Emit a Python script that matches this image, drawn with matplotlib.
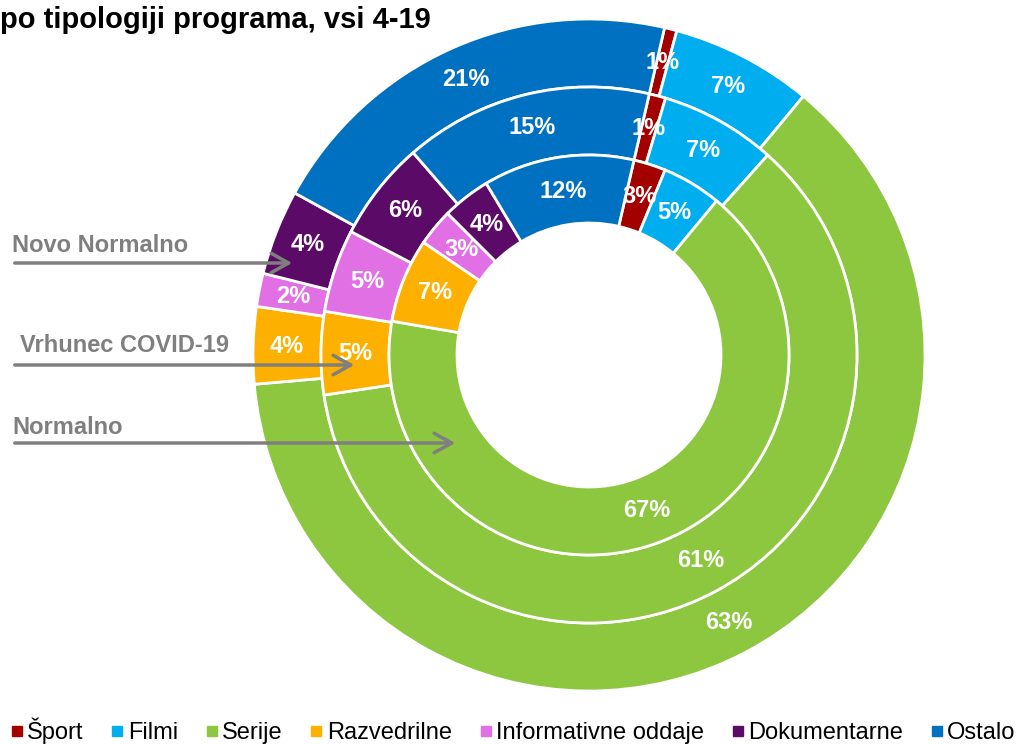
import matplotlib
matplotlib.use("Agg")
import matplotlib.pyplot as plt
from matplotlib.lines import Line2D
from matplotlib.patches import FancyArrowPatch
import numpy as np

plt.rcParams['font.family'] = ['Liberation Sans', 'DejaVu Sans']

categories = ["Šport", "Filmi", "Serije", "Razvedrilne", "Informativne oddaje", "Dokumentarne", "Ostalo"]
colors = ["#A30000", "#00AEEF", "#8DC63F", "#FDB000", "#E070E4", "#5C0A67", "#0070C0"]

rings = ["Novo Normalno", "Vrhunec COVID-19", "Normalno"]   # outer -> inner
novo_normalno = [0.6, 6.8, 62.6, 3.7, 1.6, 4.1, 20.6]
vrhunec = [1, 7, 61, 5, 5, 6, 15]
normalno = [2.6, 4.8, 66.7, 6.8, 3.0, 3.9, 12.2]
ring_values = [novo_normalno, vrhunec, normalno]

W, H = 1023, 744
fig = plt.figure(figsize=(W / 100, H / 100), dpi=100)

cx, cy, R = 589, 355, 336
ax = fig.add_axes([(cx - R) / W, (H - cy - R) / H, 2 * R / W, 2 * R / H])

width = 68 / R
for i, vals in enumerate(ring_values):
    r = 1 - i * width
    wedges, _ = ax.pie(vals, radius=r, colors=colors, startangle=77, counterclock=False,
                       wedgeprops=dict(width=width, edgecolor='white', linewidth=2))
    for w, v in zip(wedges, vals):
        ang = np.deg2rad((w.theta1 + w.theta2) / 2)
        rm = r - width / 2
        ax.text(rm * np.cos(ang), rm * np.sin(ang), f"{round(v):d}%", color='white',
                fontsize=17, fontweight='bold', ha='center', va='center')
ax.set_xlim(-1, 1)
ax.set_ylim(-1, 1)
ax.set_aspect('equal')
ax.axis('off')

# Title (top line cut off in the original)
fig.text(0, 1 - 6 / H, "po tipologiji programa, vsi 4-19",
         fontsize=21, fontweight='bold', ha='left', va='top')

# Ring labels with arrows
gray = "#7F7F7F"
arrow_specs = [("Novo Normalno", 12, 246, 263, 295),
               ("Vrhunec COVID-19", 20, 346, 365, 357),
               ("Normalno", 12, 427, 443, 458)]
for label, tx, ty, ay, ax_end in arrow_specs:
    fig.text(tx / W, 1 - ty / H, label, color=gray, fontsize=17, fontweight='bold',
             ha='left', va='center')
    fig.add_artist(FancyArrowPatch(
        (12 / W, 1 - ay / H), (ax_end / W, 1 - ay / H), transform=fig.transFigure,
        arrowstyle='->,head_length=0.9,head_width=0.5',
        color=gray, lw=2.5, mutation_scale=14))

handles = [Line2D([0], [0], marker='s', color='none', markerfacecolor=c, markeredgecolor=c,
                  markersize=7) for c in colors]
fig.legend(handles, categories, loc='center', bbox_to_anchor=(0.5, 1 - 731 / H), ncol=7,
           frameon=False, fontsize=17, handletextpad=0.05, columnspacing=1.02, handlelength=0.8)

fig.savefig("out.png", dpi=100)
